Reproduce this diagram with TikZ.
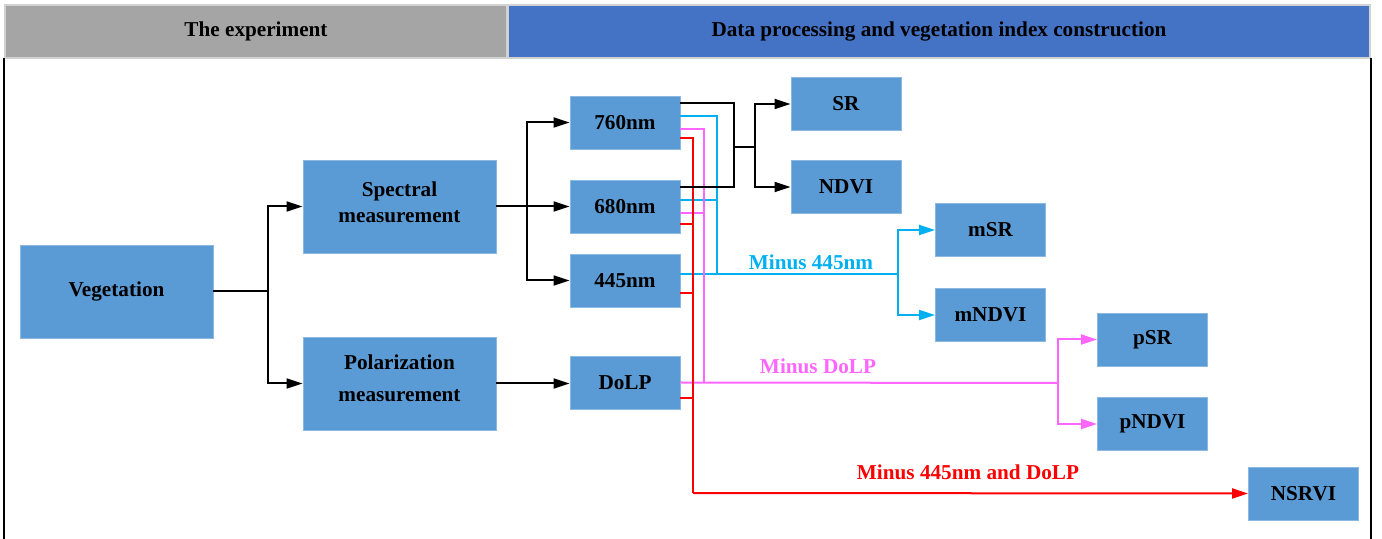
\documentclass[tikz,border=0pt]{standalone}
\usepackage{fontspec}
\setmainfont{Liberation Serif}
\usepackage{tikz}
\usetikzlibrary{positioning,arrows.meta}
\definecolor{boxblue}{HTML}{5B9BD5}
\definecolor{headgray}{HTML}{A5A5A5}
\definecolor{headblue}{HTML}{4472C4}
\definecolor{lcyan}{HTML}{00B0F0}
\definecolor{lmagenta}{HTML}{FF66FF}
\definecolor{lred}{HTML}{FF0000}

\begin{document}
\begin{tikzpicture}[
    x=0.5pt, y=-0.5pt,
    font=\bfseries\fontsize{10.6}{12.5}\selectfont,
    head/.style={draw=gray!35, line width=0.6pt, minimum height=26.5pt, inner sep=0pt},
    bigbox/.style={draw=boxblue!70!white, fill=boxblue, align=center, minimum width=96.5pt, minimum height=46.5pt, inner sep=0pt},
    smallbox/.style={draw=boxblue!70!white, fill=boxblue, minimum width=55pt, minimum height=26.5pt, inner sep=0pt},
    line/.style={line width=1pt},
    arrow/.style={line width=1pt, -{Triangle[length=8pt,width=5pt]}},
    tag/.style={inner sep=1pt}
]
\useasboundingbox (0,0) rectangle (1382,539);

\node[head, fill=headgray, minimum width=251pt] (hexp) at (256,31.5) {The experiment};
\node[head, fill=headblue, minimum width=431pt] (hdata) at (939,31.5) {Data processing and vegetation index construction};
\draw[line width=0.8pt] (4,58) -- (4,539);
\draw[line width=0.8pt] (1371,58) -- (1371,539);

\node[bigbox] (veg) at (116.5,291.5) {Vegetation};
\node[bigbox, text depth=4pt] (spec) at (399.5,206.5) {Spectral\\[0.5pt]measurement};
\node[bigbox, text depth=5pt] (pol) at (399.5,383.5) {Polarization\\[3.5pt]measurement};
\node[smallbox] (n760) at (625,122.5) {760nm};
\node[smallbox] (n680) at (625,206.5) {680nm};
\node[smallbox] (n445) at (625,280.5) {445nm};
\node[smallbox] (dolp) at (625,382.5) {DoLP};
\node[smallbox] (sr) at (846,104) {SR};
\node[smallbox] (ndvi) at (846,187) {NDVI};
\node[smallbox] (msr) at (990.5,230) {mSR};
\node[smallbox] (mndvi) at (990.5,315) {mNDVI};
\node[smallbox] (psr) at (1152.5,339.5) {pSR};
\node[smallbox] (pndvi) at (1152.5,424) {pNDVI};
\node[smallbox] (nsrvi) at (1303.5,493.5) {NSRVI};

\coordinate (jveg) at (268,293);
\coordinate (jspec) at (527,207);
\coordinate (jblk) at (734,147);
\coordinate (jfork) at (755,147);
\coordinate (cjoin) at (717,274);
\coordinate (csplit) at (898,274);
\coordinate (mjoin) at (704,383);
\coordinate (msplit) at (1058,383);
\coordinate (rjoin) at (693,493);

\draw[line] (veg.east) -- (veg.east -| jveg);
\draw[arrow] (veg.east -| jveg) |- (spec.west);
\draw[arrow] (veg.east -| jveg) |- (pol.west);
\draw[line] (spec.east) -- (spec.east -| jspec);
\draw[arrow] (spec.east -| jspec) |- (n760.west);
\draw[arrow] (spec.east -| jspec) |- (n445.west);
\draw[arrow] (spec.east) -- (n680.west);
\draw[arrow] (pol.east) -- (pol.east -| dolp.west);

\draw[line, lcyan] ([yshift=3.25pt]n760.east) -| (cjoin);
\draw[line, lcyan] ([yshift=3.25pt]n680.east) -| (cjoin);
\draw[line, lcyan] ([yshift=3.25pt]n445.east) -- (csplit);
\draw[arrow, lcyan] (csplit) |- (msr.west);
\draw[arrow, lcyan] (csplit) |- (mndvi.west);
\node[tag, text=lcyan] (lbl445) at (811,262) {Minus 445nm};

\draw[line, lmagenta] ([yshift=-3.25pt]n760.east) -| (mjoin);
\draw[line, lmagenta] ([yshift=-3.25pt]n680.east) -| (mjoin);
\draw[line, lmagenta] (dolp.east) -- (msplit);
\draw[arrow, lmagenta] (msplit) |- (psr.west);
\draw[arrow, lmagenta] (msplit) |- (pndvi.west);
\node[tag, text=lmagenta] (lbldolp) at (818,366) {Minus DoLP};

\draw[line, lred] ([yshift=-7.75pt]n760.east) -| (rjoin);
\draw[line, lred] ([yshift=-8.75pt]n680.east) -| (rjoin);
\draw[line, lred] ([yshift=-6.25pt]n445.east) -| (rjoin);
\draw[line, lred] ([yshift=-7.75pt]dolp.east) -| (rjoin);
\draw[arrow, lred] (rjoin) -- (nsrvi.west);
\node[tag, text=lred] (lblboth) at (968,472) {Minus 445nm and DoLP};

\draw[line] ([yshift=9.75pt]n760.east) -| (jblk) |- ([yshift=9.75pt]n680.east);
\draw[line] (jblk) -- (jfork);
\draw[arrow] (jfork) |- (sr.west);
\draw[arrow] (jfork) |- (ndvi.west);
\end{tikzpicture}
\end{document}
